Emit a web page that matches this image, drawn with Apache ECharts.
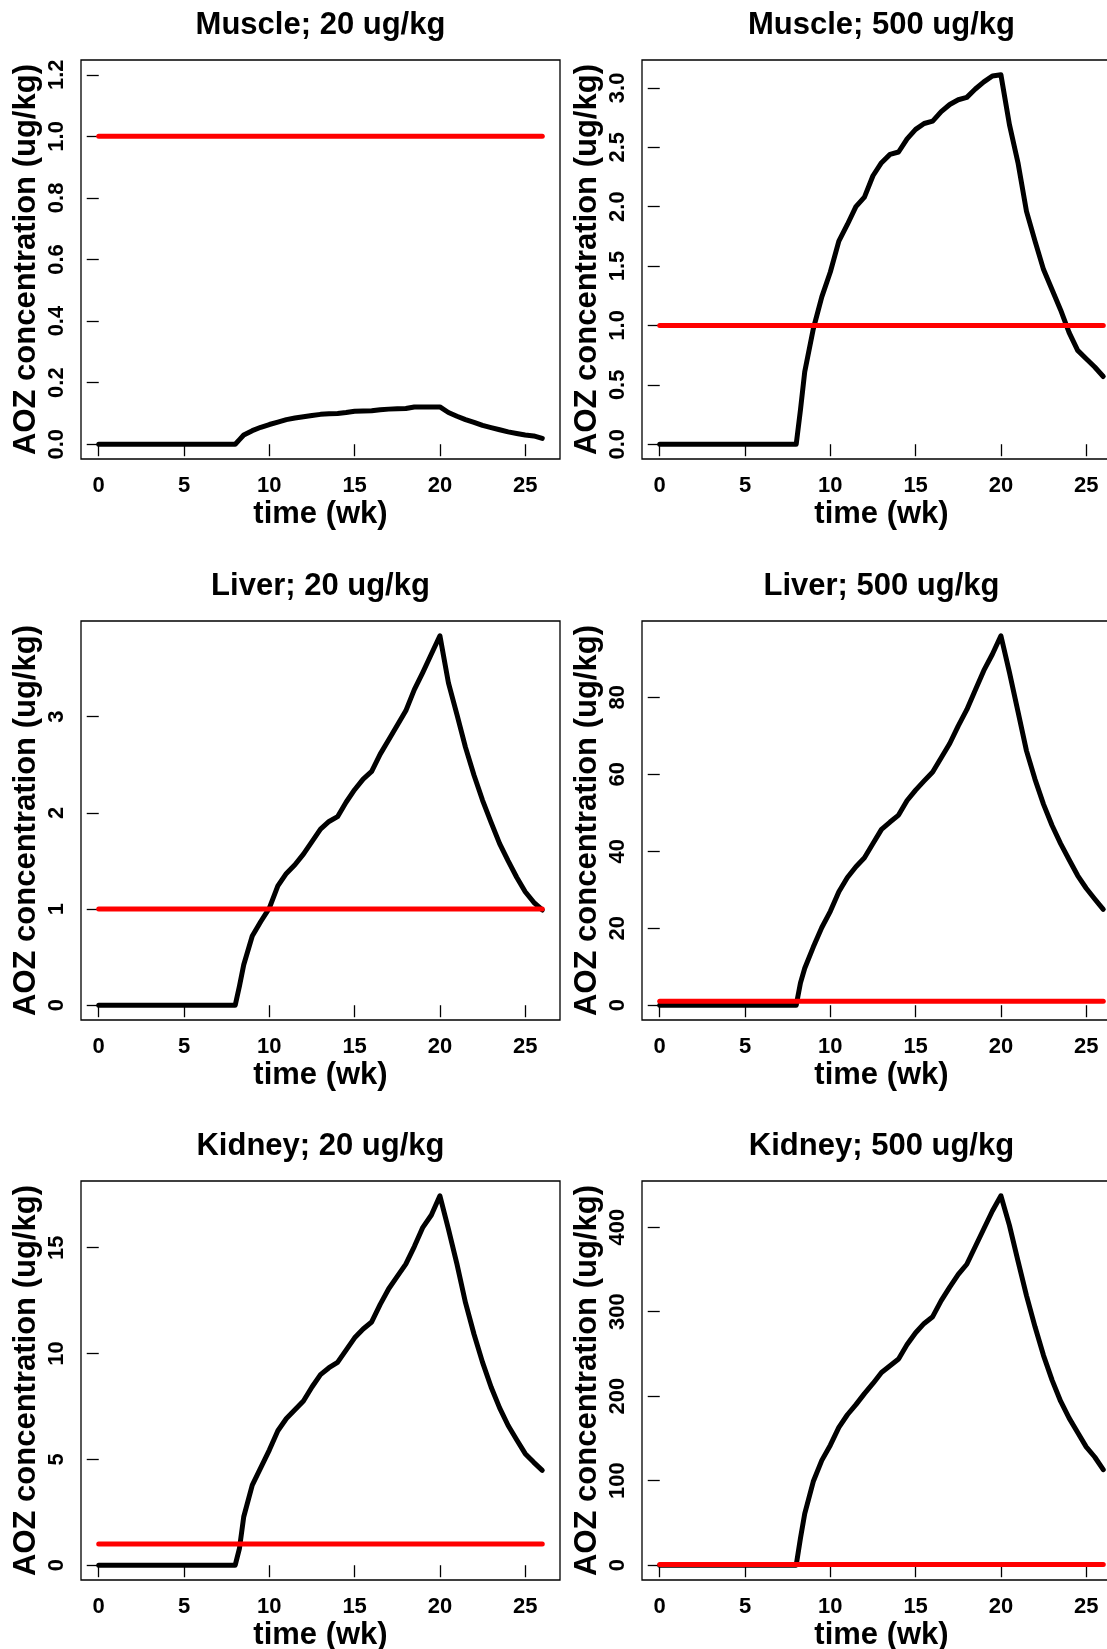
<!DOCTYPE html>
<html lang="en">
<head>
    <meta charset="UTF-8">
    <title>AOZ concentration</title>
    <script src="https://cdn.jsdelivr.net/npm/echarts@6/dist/echarts.min.js"></script>
    <style type="text/css">
        *{margin: 0;padding: 0;border: none}
        html,body{width: 100%;height: 100%;overflow: hidden;background: #fff;}
        #main{width: 1107px;height: 1649px;}
    </style>
</head>
<body>
<div id="main"></div>
<script type="text/javascript">
    // time in weeks, shared by all six panels
    var time = [0, 8, 8.25, 8.5, 9, 9.5, 10, 10.5, 11, 11.5, 12, 12.5, 13, 13.5, 14, 14.5, 15, 15.5, 16, 16.5,
        17, 17.5, 18, 18.5, 19, 19.5, 20, 20.5, 21, 21.5, 22, 22.5, 23, 23.5, 24, 24.5, 25, 25.5, 26];

    // AOZ concentration (ug/kg)
    var muscle20 = [0, 0, 0.015, 0.030, 0.044, 0.055, 0.064, 0.072, 0.080, 0.085, 0.089, 0.093, 0.097, 0.099, 0.100, 0.103,
        0.107, 0.108, 0.109, 0.112, 0.114, 0.115, 0.116, 0.121, 0.121, 0.121, 0.121, 0.103, 0.091, 0.080, 0.071, 0.061,
        0.054, 0.047, 0.040, 0.035, 0.030, 0.027, 0.019];
    var muscle500 = [0, 0, 0.29, 0.61, 0.97, 1.24, 1.45, 1.71, 1.85, 2.00, 2.08, 2.26, 2.37, 2.44, 2.46, 2.57,
        2.65, 2.70, 2.72, 2.80, 2.86, 2.90, 2.92, 2.99, 3.05, 3.10, 3.11, 2.69, 2.37, 1.96, 1.71, 1.47,
        1.30, 1.13, 0.94, 0.79, 0.72, 0.65, 0.57];
    var liver20 = [0, 0, 0.20, 0.42, 0.72, 0.87, 1.01, 1.24, 1.37, 1.46, 1.57, 1.70, 1.83, 1.91, 1.96, 2.11,
        2.24, 2.35, 2.43, 2.61, 2.76, 2.91, 3.06, 3.28, 3.46, 3.65, 3.84, 3.35, 3.02, 2.68, 2.39, 2.13,
        1.90, 1.68, 1.50, 1.33, 1.18, 1.07, 0.99];
    var liver500 = [0, 0, 5.8, 9.6, 15.1, 20.2, 24.4, 29.5, 33.2, 36.0, 38.3, 42.0, 45.7, 47.6, 49.4, 53.2,
        55.9, 58.3, 60.6, 64.3, 68.0, 72.6, 76.8, 81.9, 87.0, 91.2, 96.0, 86.5, 76.3, 66.1, 58.7, 52.2,
        46.7, 42.0, 37.8, 33.7, 30.4, 27.6, 24.9];
    var kidney20 = [0, 0, 0.8, 2.29, 3.78, 4.61, 5.44, 6.35, 6.93, 7.34, 7.76, 8.42, 9.00, 9.33, 9.58, 10.16,
        10.74, 11.16, 11.49, 12.32, 13.06, 13.64, 14.22, 15.05, 15.96, 16.54, 17.45, 15.88, 14.22, 12.40, 10.91, 9.58,
        8.42, 7.43, 6.60, 5.93, 5.27, 4.86, 4.48];
    var kidney500 = [0, 0, 32, 61, 99, 124, 142, 163, 178, 190, 203, 215, 228, 236, 244, 261,
        275, 286, 294, 313, 329, 344, 356, 377, 398, 419, 437, 402, 360, 319, 282, 248,
        219, 194, 174, 157, 140, 128, 113];

    // red reference level
    var limit = 1;

    // tick labels
    var xTicks = [0, 5, 10, 15, 20, 25];
    var muscle20Ticks = [0, 0.2, 0.4, 0.6, 0.8, 1.0, 1.2];
    var muscle500Ticks = [0, 0.5, 1.0, 1.5, 2.0, 2.5, 3.0];
    var liver20Ticks = [0, 1, 2, 3];
    var liver500Ticks = [0, 20, 40, 60, 80];
    var kidney20Ticks = [0, 5, 10, 15];
    var kidney500Ticks = [0, 100, 200, 300, 400];

    var titles = ['Muscle; 20 ug/kg', 'Muscle; 500 ug/kg', 'Liver; 20 ug/kg', 'Liver; 500 ug/kg',
        'Kidney; 20 ug/kg', 'Kidney; 500 ug/kg'];

    var panels = [
        {data: muscle20, ticks: muscle20Ticks, digits: 1},
        {data: muscle500, ticks: muscle500Ticks, digits: 1},
        {data: liver20, ticks: liver20Ticks, digits: 0},
        {data: liver500, ticks: liver500Ticks, digits: 0},
        {data: kidney20, ticks: kidney20Ticks, digits: 0},
        {data: kidney500, ticks: kidney500Ticks, digits: 0}
    ];

    var font = '"Liberation Sans", Arial, Helvetica, sans-serif';
    var colLeft = [81, 642];
    var rowTop = [60, 621, 1181];
    var boxW = 479, boxH = 399;

    // R style 4% padding on both ends
    var tMin = time[0], tMax = time[time.length - 1];
    var tPad = (tMax - tMin) * 0.04;

    var myChart = echarts.init(document.getElementById('main'), null, {renderer: 'canvas'});

    var option = {
        backgroundColor: '#fff',
        animation: false,
        title: [],
        grid: [],
        xAxis: [],
        yAxis: [],
        series: []
    };

    panels.forEach(function (p, i) {
        var col = i % 2, row = Math.floor(i / 2);
        var lo = 0;
        var hi = Math.max(Math.max.apply(null, p.data), p.ticks[p.ticks.length - 1]);
        var pad = (hi - lo) * 0.04;

        option.title.push({
            text: titles[i],
            left: colLeft[col] + boxW / 2,
            top: rowTop[row] - 50,
            textAlign: 'center',
            padding: 0,
            textStyle: {color: '#000', fontFamily: font, fontWeight: 'bold', fontSize: 31}
        });

        // the right column runs past the page edge, as in the original figure
        option.grid.push({
            left: colLeft[col], top: rowTop[row], width: boxW, height: boxH,
            outerBoundsMode: 'none', containLabel: false,
            show: true, borderColor: '#000', borderWidth: 1.3, backgroundColor: 'transparent'
        });

        option.xAxis.push({
            gridIndex: i,
            type: 'value',
            min: tMin - tPad,
            max: tMax + tPad,
            axisLine: {show: false},
            splitLine: {show: false},
            axisTick: {show: true, customValues: xTicks, length: 12, lineStyle: {color: '#000', width: 1.3}},
            axisLabel: {
                customValues: xTicks, margin: 16, color: '#000',
                fontFamily: font, fontWeight: 'bold', fontSize: 22
            },
            name: 'time (wk)',
            nameLocation: 'middle',
            nameGap: 40,
            nameTextStyle: {color: '#000', fontFamily: font, fontWeight: 'bold', fontSize: 31}
        });

        option.yAxis.push({
            gridIndex: i,
            type: 'value',
            min: lo - pad,
            max: hi + pad,
            axisLine: {show: false},
            splitLine: {show: false},
            axisTick: {show: true, customValues: p.ticks, length: 12, lineStyle: {color: '#000', width: 1.3}},
            axisLabel: {
                customValues: p.ticks, rotate: 90, margin: 13, color: '#000',
                fontFamily: font, fontWeight: 'bold', fontSize: 22,
                formatter: function (v) { return v.toFixed(p.digits); }
            },
            name: 'AOZ concentration (ug/kg)',
            nameLocation: 'middle',
            nameGap: 39,
            nameTextStyle: {color: '#000', fontFamily: font, fontWeight: 'bold', fontSize: 31}
        });

        option.series.push({
            type: 'line',
            xAxisIndex: i,
            yAxisIndex: i,
            data: time.map(function (t, k) { return [t, p.data[k]]; }),
            showSymbol: false,
            silent: true,
            lineStyle: {color: '#000', width: 5, cap: 'round', join: 'round'},
            z: 2
        });

        option.series.push({
            type: 'line',
            xAxisIndex: i,
            yAxisIndex: i,
            data: [[tMin, limit], [tMax, limit]],
            showSymbol: false,
            silent: true,
            lineStyle: {color: '#ff0000', width: 5, cap: 'round'},
            z: 3
        });
    });

    myChart.setOption(option);
</script>
</body>
</html>
